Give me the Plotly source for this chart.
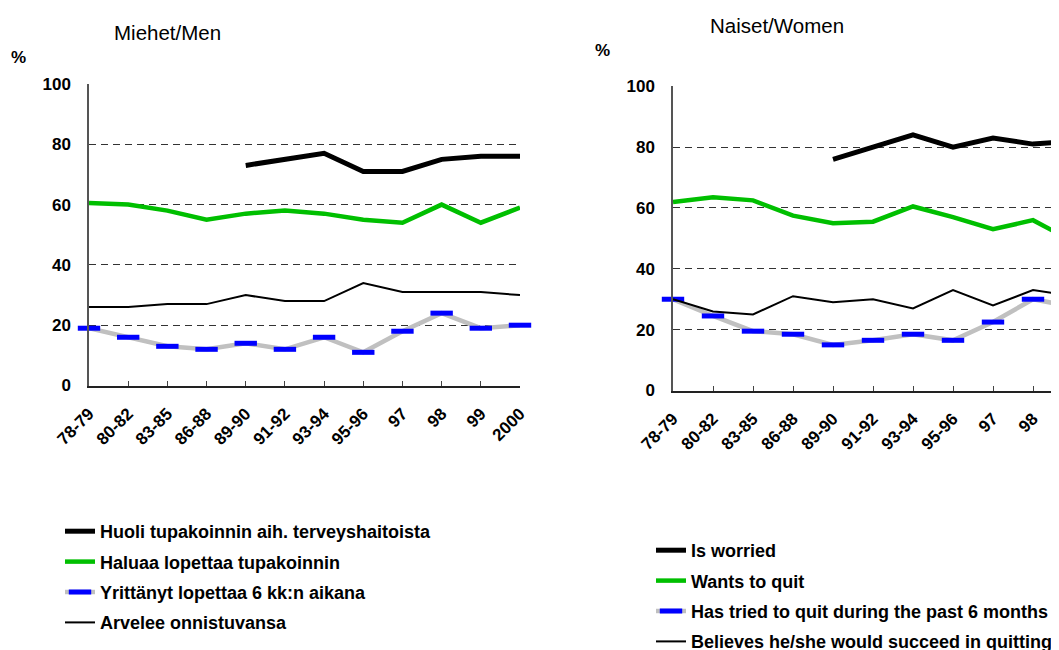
"""Smoking cessation attitudes, men vs women, 1978-2000."""

import plotly.graph_objects as go

periods = ["78-79", "80-82", "83-85", "86-88", "89-90", "91-92",
           "93-94", "95-96", "97", "98", "99", "2000"]

men_worried = [None, None, None, None, 73, 75, 77, 71, 71, 75, 76, 76]
men_wants_quit = [60.5, 60, 58, 55, 57, 58, 57, 55, 54, 60, 54, 59]
men_tried = [19, 16, 13, 12, 14, 12, 16, 11, 18, 24, 19, 20]
men_believes = [26, 26, 27, 27, 30, 28, 28, 34, 31, 31, 31, 30]

women_worried = [None, None, None, None, 76, 80, 84, 80, 83, 81, 82, None]
women_wants_quit = [62, 63.5, 62.5, 57.5, 55, 55.5, 60.5, 57, 53, 56, 49, None]
women_tried = [30, 24.5, 19.5, 18.5, 15, 16.5, 18.5, 16.5, 22.5, 30, 27.5, None]
women_believes = [30, 26, 25, 31, 29, 30, 27, 33, 28, 33, 31, None]

men_names = ["Huoli tupakoinnin aih. terveyshaitoista",
             "Haluaa lopettaa tupakoinnin",
             "Yrittänyt lopettaa 6 kk:n aikana",
             "Arvelee onnistuvansa"]
women_names = ["Is worried", "Wants to quit",
               "Has tried to quit during the past 6 months",
               "Believes he/she would succeed in quitting"]

FONT = "Arial, Liberation Sans, sans-serif"
GREEN = "#00bf00"
GRAY = "#c0c0c0"
BLUE = "#0000ff"
W, H = 1059, 650

fig = go.Figure()


def add_panel(series, names, xa, ya, legend, grp):
    styles = [
        dict(line=dict(color="black", width=5), mode="lines"),
        dict(line=dict(color=GREEN, width=4.5), mode="lines"),
        dict(line=dict(color=GRAY, width=4.5), mode="lines+markers",
             marker=dict(symbol="line-ew", size=16,
                         line=dict(color=BLUE, width=5))),
        dict(line=dict(color="black", width=2), mode="lines"),
    ]
    for i, (ys, name, st) in enumerate(zip(series, names, styles)):
        fig.add_trace(go.Scatter(x=periods, y=ys, name=name, xaxis=xa,
                                 yaxis=ya, legend=legend,
                                 legendgroup=f"{grp}{i}", cliponaxis=False,
                                 **st))


add_panel([men_worried, men_wants_quit, men_tried, men_believes],
          men_names, "x", "y", "legend", "m")
add_panel([women_worried, women_wants_quit, women_tried, women_believes],
          women_names, "x2", "y2", "legend2", "w")

tick_font = dict(family=FONT, size=17, color="black", weight="bold")
xcommon = dict(type="category", categoryorder="array", categoryarray=periods,
               tickangle=-45, ticks="inside", ticklen=5, tickcolor="#444",
               showline=True, linecolor="#222", linewidth=1.5,
               showgrid=False, tickfont=tick_font,
               ticklabelstandoff=10, automargin=False)
ycommon = dict(range=[0, 100], tickvals=[0, 20, 40, 60, 80, 100],
               showline=True, linecolor="#555", linewidth=1.5,
               showgrid=True, gridcolor="#333", gridwidth=1,
               griddash="7px,5px", zeroline=False, ticks="",
               tickfont=tick_font, ticklabelstandoff=13, automargin=False)

legend_common = dict(font=dict(family=FONT, size=18, color="black",
                               weight="bold"),
                     tracegroupgap=4, bgcolor="rgba(0,0,0,0)",
                     xanchor="left", yanchor="top", itemclick=False)

# page body adds 8px around the figure, so positions are shifted by -8
fig.update_layout(
    width=W, height=H,
    margin=dict(l=0, r=0, t=0, b=0, autoexpand=False),
    paper_bgcolor="white", plot_bgcolor="white",
    font=dict(family=FONT, color="black"),
    xaxis=dict(xcommon, domain=[81 / W, 512 / W], range=[0, 11],
               anchor="y"),
    yaxis=dict(ycommon, domain=[1 - 377.5 / H, 1 - 76 / H], anchor="x"),
    xaxis2=dict(xcommon, domain=[665 / W, 1], range=[0, 9.85],
                anchor="y2"),
    yaxis2=dict(ycommon, domain=[1 - 382.5 / H, 1 - 78.3 / H], anchor="x2"),
    legend=dict(legend_common, x=52 / W, y=1 - 505 / H),
    legend2=dict(legend_common, x=643 / W, y=1 - 524 / H),
    showlegend=True,
)

title_font = dict(family=FONT, size=20.5, color="black")
pct_font = dict(family=FONT, size=17, color="black", weight="bold")
for text, px, py, f in [("Miehet/Men", 159, 25, title_font),
                        ("Naiset/Women", 769, 17, title_font),
                        ("%", 10, 49, pct_font),
                        ("%", 594, 43, pct_font)]:
    fig.add_annotation(text=text, x=px / W, y=1 - py / H, xref="paper",
                       yref="paper", showarrow=False, xanchor="center",
                       yanchor="middle", font=f)

fig.write_html("out.html")
